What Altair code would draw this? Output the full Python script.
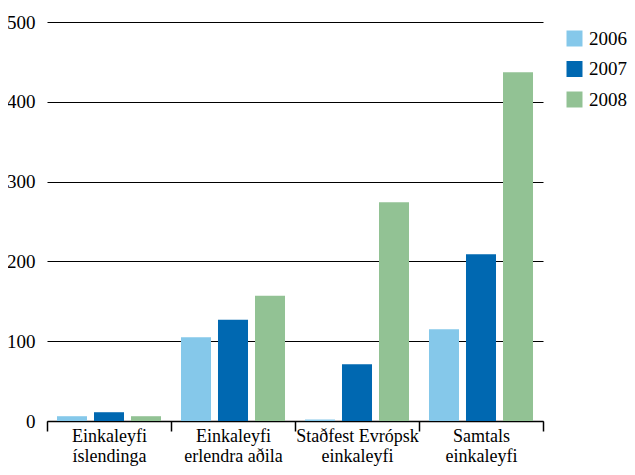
import altair as alt
import pandas as pd

categories = ["Einkaleyfi\níslendinga", "Einkaleyfi\nerlendra aðila",
              "Staðfest Evrópsk\neinkaleyfi", "Samtals\neinkaleyfi"]
years = ["2006", "2007", "2008"]
v2006 = [6, 105, 2, 115]
v2007 = [11, 127, 71, 209]
v2008 = [6, 157, 274, 437]
colors = ["#85C8EA", "#0068B1", "#92C294"]

rows = []
for i, c in enumerate(categories):
    for y, vals in zip(years, [v2006, v2007, v2008]):
        rows.append({"cat": c, "year": y, "value": vals[i]})
df = pd.DataFrame(rows)

FONT = "Liberation Sans Narrow"

chart = alt.Chart(df).mark_bar().encode(
    x=alt.X("cat:N", sort=categories, title=None,
            scale=alt.Scale(paddingInner=0, paddingOuter=0),
            axis=alt.Axis(labelExpr="isValid(datum.value) ? split(datum.value, '\\n') : ''",
                          labelAngle=0,
                          tickBand="extent", tickSize=10, tickColor="black",
                          tickWidth=1.5, domainColor="black", domainWidth=1.5,
                          labelFont=FONT, labelFontSize=18, labelColor="black",
                          labelLineHeight=20, labelPadding=-4, grid=False)),
    xOffset=alt.XOffset("year:N", scale=alt.Scale(paddingInner=0.189, paddingOuter=0.27)),
    y=alt.Y("value:Q", title=None,
            scale=alt.Scale(domain=[0, 500]),
            axis=alt.Axis(values=[0, 100, 200, 300, 400, 500], ticks=False, domain=False,
                          gridColor="black", gridWidth=1.2, labelPadding=12,
                          labelFont=FONT, labelFontSize=19, labelColor="black")),
    color=alt.Color("year:N", scale=alt.Scale(domain=years, range=colors),
                    legend=alt.Legend(title=None, orient="none", legendX=518, legendY=7,
                                      symbolType="square", symbolSize=256,
                                      symbolStrokeWidth=0, labelFont=FONT,
                                      labelFontSize=19, labelColor="black",
                                      rowPadding=10.5, labelOffset=5)),
).properties(
    width=496, height=399,
    autosize=alt.AutoSizeParams(type="none"),
    padding={"left": 39, "top": 14, "right": 84, "bottom": 46},
).configure_view(stroke=None)

chart.save("out.html", embed_options={"renderer": "svg", "actions": False})
